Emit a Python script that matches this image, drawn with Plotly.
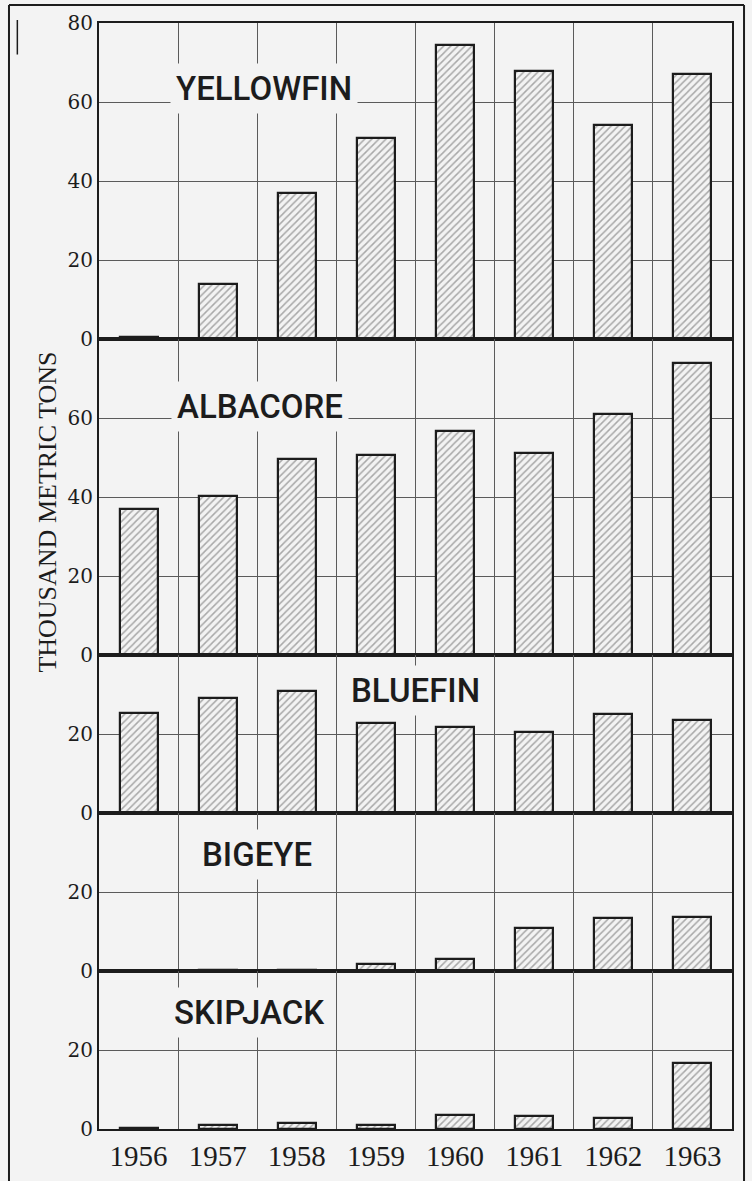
import plotly.graph_objects as go
from plotly.subplots import make_subplots

years = [1956, 1957, 1958, 1959, 1960, 1961, 1962, 1963]
yellowfin = [0.4, 13.9, 37.0, 51.0, 74.4, 67.8, 54.2, 67.1]
albacore = [37.0, 40.2, 49.7, 50.6, 56.8, 51.2, 61.1, 74.0]
bluefin = [25.2, 29.0, 31.0, 22.8, 21.9, 20.6, 25.1, 23.6]
bigeye = [0.0, 0.3, 0.3, 1.7, 3.0, 10.9, 13.4, 13.7]
skipjack = [0.3, 0.9, 1.5, 0.9, 3.5, 3.2, 2.8, 16.7]

species = ["YELLOWFIN", "ALBACORE", "BLUEFIN", "BIGEYE", "SKIPJACK"]
series = [yellowfin, albacore, bluefin, bigeye, skipjack]
ranges = [80, 80, 40, 40, 40]
yticks = [[0, 20, 40, 60, 80], [0, 20, 40, 60], [0, 20], [0, 20], [0, 20]]
label_pos = [(1957.58, 63.5), (1957.53, 62.8), (1959.5, 31.0), (1957.5, 29.4), (1957.4, 29.4)]

BG = "#f3f3f3"
INK = "#1c1c1c"
GRID = "#5a5a5a"

fig = make_subplots(rows=5, cols=1, shared_xaxes=True, vertical_spacing=0,
                    row_heights=ranges)

for i, (name, vals) in enumerate(zip(species, series)):
    r = i + 1
    fig.add_trace(go.Bar(
        x=years, y=vals, width=0.48, name=name, showlegend=False,
        marker=dict(color=BG, line=dict(color=INK, width=2.2),
                    pattern=dict(shape="/", fgcolor="#5e5e5e", bgcolor=BG,
                                 size=5, solidity=0.3)),
    ), row=r, col=1)
    fig.update_yaxes(range=[0, ranges[i]], tickvals=yticks[i], showgrid=True,
                     gridcolor=GRID, gridwidth=1, zeroline=False, automargin=False,
                     showline=True, linecolor=INK, linewidth=2.2, mirror=True,
                     ticks="", tickfont=dict(family="DejaVu Serif", size=20, color=INK),
                     row=r, col=1)
    xa = "x" if r == 1 else f"x{r}"
    ya = "y" if r == 1 else f"y{r}"
    fig.add_annotation(x=label_pos[i][0], y=label_pos[i][1], xref=xa, yref=ya,
                       text=name, showarrow=False, bgcolor=BG, borderpad=5,
                       font=dict(family="Roboto", size=33, weight=500, color=INK))

minor_grid = [y + 0.5 for y in years[:-1]]
fig.update_xaxes(range=[years[0] - 0.5, years[-1] + 0.5], tickvals=years,
                 showgrid=False, zeroline=False, automargin=False,
                 showline=True, linecolor=INK, linewidth=2.2, mirror=True, ticks="",
                 minor=dict(tickvals=minor_grid, showgrid=True, gridcolor=GRID,
                            gridwidth=1, ticks=""),
                 tickfont=dict(family="Liberation Serif", size=29, color=INK))

# y-axis title
fig.add_annotation(x=-0.107, y=0.558, xref="paper", yref="paper",
                   text="THOUSAND METRIC TONS", textangle=-90, showarrow=False,
                   font=dict(family="Liberation Serif", size=26, color=INK))

# outer frame of the scanned page
frame = dict(type="line", xref="paper", yref="paper", line=dict(color=INK, width=2))
fig.add_shape(**frame, x0=-0.1422, x1=1.019, y0=1.0163, y1=1.0163)
fig.add_shape(**frame, x0=-0.1422, x1=-0.1422, y0=1.0163, y1=-0.06)
fig.add_shape(**frame, x0=1.019, x1=1.019, y0=1.0163, y1=-0.06)
fig.add_shape(type="line", xref="paper", yref="paper", x0=-0.129, x1=-0.129,
              y0=1.0027, y1=0.9715, line=dict(color=INK, width=1.5))

fig.update_layout(width=752, height=1181, paper_bgcolor=BG, plot_bgcolor=BG,
                  margin=dict(l=99, r=20, t=23, b=52, autoexpand=False), bargap=0)

fig.write_html("out.html", config={"displayModeBar": False},
               post_script="document.body.style.margin='0px';document.body.style.overflow='hidden';")
